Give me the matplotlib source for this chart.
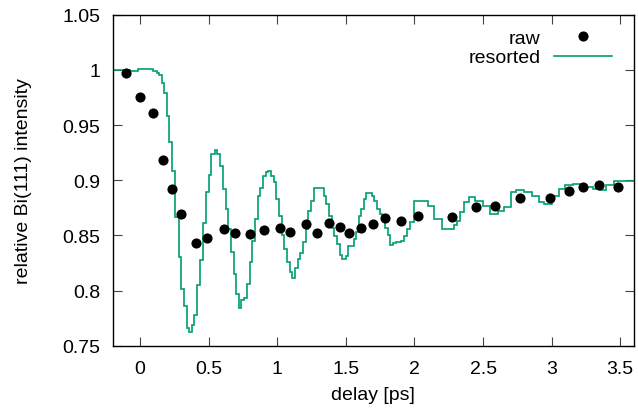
import numpy as np
import matplotlib
matplotlib.use("Agg")
import matplotlib.pyplot as plt

# raw data points
raw_x = [-0.104, 0.0, 0.095, 0.165, 0.236, 0.299, 0.404, 0.491, 0.608, 0.691,
         0.802, 0.90, 1.021, 1.094, 1.206, 1.293, 1.374, 1.459, 1.52, 1.61,
         1.70, 1.785, 1.904, 2.023, 2.27, 2.448, 2.589, 2.767, 2.99, 3.124,
         3.229, 3.343, 3.481]
raw_y = [0.997, 0.975, 0.961, 0.918, 0.892, 0.869, 0.843, 0.848, 0.856, 0.852,
         0.851, 0.855, 0.857, 0.853, 0.860, 0.852, 0.861, 0.858, 0.852, 0.857,
         0.860, 0.866, 0.863, 0.868, 0.867, 0.876, 0.877, 0.884, 0.884, 0.890,
         0.894, 0.896, 0.894]

# resorted curve: bin edges and bin values
res_edges = [-0.2, -0.073, -0.012, 0.097, 0.122, 0.141, 0.158, 0.175, 0.194, 0.214,
             0.233, 0.255, 0.280, 0.299, 0.321, 0.345, 0.360, 0.377, 0.394, 0.418,
             0.438, 0.457, 0.479, 0.499, 0.520, 0.545, 0.564, 0.584, 0.603, 0.623,
             0.642, 0.662, 0.681, 0.701, 0.720, 0.735, 0.754, 0.779, 0.798, 0.818,
             0.837, 0.857, 0.876, 0.896, 0.915, 0.935, 0.954, 0.974, 0.993, 1.013,
             1.032, 1.052, 1.071, 1.091, 1.110, 1.130, 1.149, 1.169, 1.188, 1.208,
             1.227, 1.247, 1.264, 1.337, 1.357, 1.376, 1.396, 1.415, 1.435, 1.454,
             1.473, 1.498, 1.517, 1.556, 1.576, 1.595, 1.610, 1.629, 1.648, 1.687,
             1.707, 1.726, 1.746, 1.765, 1.785, 1.804, 1.824, 1.843, 1.862, 1.901,
             1.921, 1.945, 1.969, 1.998, 2.095, 2.144, 2.197, 2.290, 2.310, 2.334,
             2.358, 2.395, 2.443, 2.499, 2.553, 2.606, 2.655, 2.703, 2.742, 2.796,
             2.857, 2.906, 2.947, 3.003, 3.051, 3.100, 3.156, 3.210, 3.302, 3.351,
             3.399, 3.453, 3.6]
res_vals = [1.000, 0.999, 1.0005, 0.999, 0.9975, 0.995, 0.988, 0.979, 0.958, 0.935,
            0.908, 0.867, 0.830, 0.801, 0.786, 0.766, 0.762, 0.769, 0.778, 0.805,
            0.828, 0.861, 0.889, 0.905, 0.924, 0.927, 0.924, 0.913, 0.892, 0.874,
            0.856, 0.835, 0.815, 0.797, 0.784, 0.791, 0.793, 0.806, 0.826, 0.845,
            0.865, 0.886, 0.893, 0.904, 0.907, 0.908, 0.904, 0.898, 0.883, 0.868,
            0.850, 0.838, 0.826, 0.817, 0.811, 0.820, 0.829, 0.834, 0.844, 0.856,
            0.872, 0.881, 0.893, 0.886, 0.878, 0.868, 0.857, 0.849, 0.842, 0.832,
            0.829, 0.831, 0.840, 0.847, 0.853, 0.868, 0.874, 0.883, 0.888, 0.886,
            0.881, 0.874, 0.869, 0.865, 0.857, 0.850, 0.841, 0.843, 0.844, 0.845,
            0.849, 0.856, 0.862, 0.881, 0.877, 0.865, 0.856, 0.859, 0.863, 0.871,
            0.880, 0.885, 0.881, 0.877, 0.869, 0.872, 0.876, 0.889, 0.891, 0.889,
            0.886, 0.880, 0.878, 0.886, 0.892, 0.896, 0.897, 0.894, 0.892, 0.891,
            0.896, 0.899]

x_ticks = [0, 0.5, 1, 1.5, 2, 2.5, 3, 3.5]
x_labels = ["0", "0.5", "1", "1.5", "2", "2.5", "3", "3.5"]
y_ticks = [0.75, 0.8, 0.85, 0.9, 0.95, 1.0, 1.05]
y_labels = ["0.75", "0.8", "0.85", "0.9", "0.95", "1", "1.05"]

plt.rcParams["font.family"] = ["Liberation Sans", "DejaVu Sans"]
plt.rcParams["font.size"] = 14

fig = plt.figure(figsize=(6.38, 4.10), dpi=100)
ax = fig.add_axes([0.1766, 0.1544, 0.9937 - 0.1766, 0.9617 - 0.1544])

ax.plot(raw_x, raw_y, "o", color="black", markersize=7.3, markeredgewidth=0,
        label="raw", zorder=3)
ax.stairs(res_vals, res_edges, baseline=None, color="#009e73", linewidth=1.2,
          label="resorted", zorder=2)

ax.set_xlim(-0.2, 3.6)
ax.set_ylim(0.75, 1.05)
ax.set_xticks(x_ticks)
ax.set_xticklabels(x_labels)
ax.set_yticks(y_ticks)
ax.set_yticklabels(y_labels)
ax.tick_params(direction="in", length=6.5, width=0.8, top=True, right=True,
               color="#444444")
ax.tick_params(axis="y", pad=9)
ax.tick_params(axis="x", pad=10)
for s in ax.spines.values():
    s.set_linewidth(1.0)

ax.set_xlabel("delay [ps]", labelpad=7)
ax.set_ylabel("relative Bi(111) intensity", labelpad=22)

ax.legend(loc="upper right", bbox_to_anchor=(0.985, 1.0), frameon=False,
          markerfirst=False, handlelength=2.95, handletextpad=0.7,
          labelspacing=0.1, borderaxespad=0.35)

fig.savefig("out.png", dpi=100)
